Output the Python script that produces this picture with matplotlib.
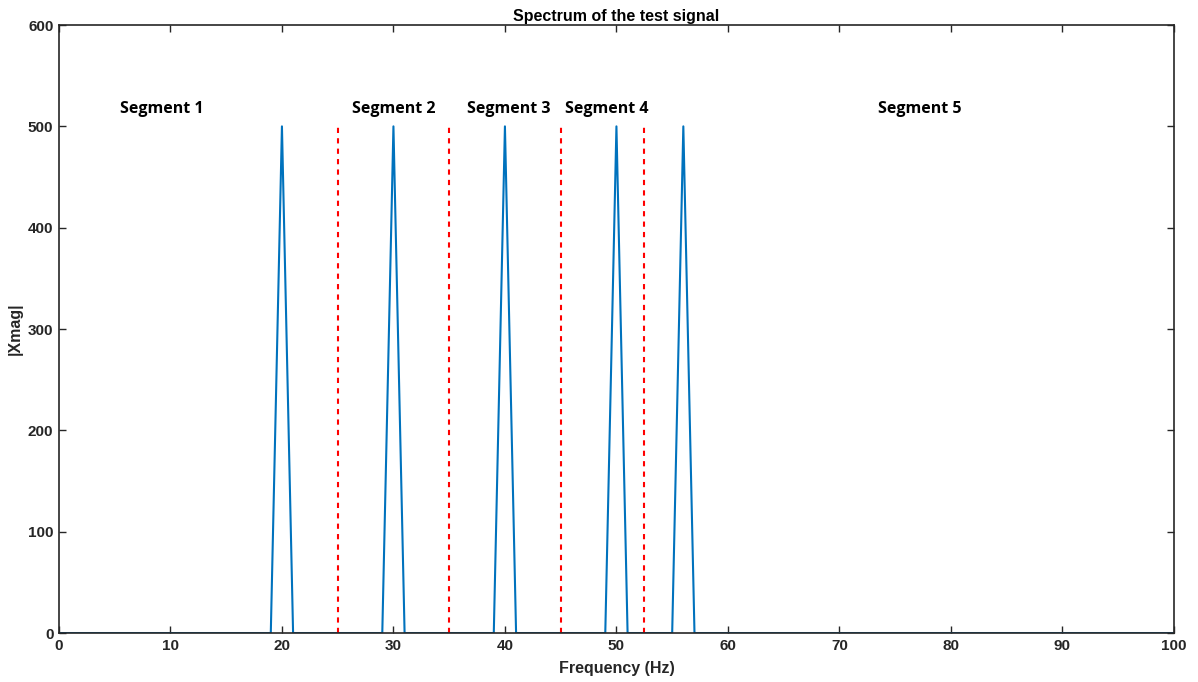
import numpy as np
import matplotlib.pyplot as plt

# spectrum: 0..100 Hz, 1 Hz bins
freq = np.arange(0, 101)
peak_freqs = [20, 30, 40, 50, 56]
peak_mags = [500, 500, 500, 500, 500]
boundaries = [25, 35, 45, 52.5]
seg_labels = ['Segment 1', 'Segment 2', 'Segment 3', 'Segment 4', 'Segment 5']
seg_x = [9.2, 30.0, 40.3, 49.1, 77.2]
seg_y = 517

xmag = np.zeros(len(freq))
for f, m in zip(peak_freqs, peak_mags):
    xmag[freq == f] = m

plt.rcParams['font.family'] = ['Liberation Sans', 'DejaVu Sans']
axc = '#262626'

fig = plt.figure(figsize=(11.98, 6.82), dpi=100)
ax = fig.add_axes([0.0492, 0.0718, 0.9307, 0.8915])

ax.plot(freq, xmag, color='#0072BD', lw=1.5)
for b in boundaries:
    ax.plot([b, b], [0, 500], color='#FF0000', lw=1.5, ls=(0, (2.5, 2.5)))

for s, x in zip(seg_labels, seg_x):
    ax.text(x, seg_y, s, ha='center', va='center', fontsize=11.5,
            fontweight='bold', family=['Open Sans', 'DejaVu Sans'])

ax.set_xlim(0, 100)
ax.set_ylim(0, 600)
ax.set_xticks(np.arange(0, 101, 10))
ax.set_yticks(np.arange(0, 601, 100))
ax.tick_params(direction='in', length=5, width=1, colors=axc, labelsize=11,
               top=True, right=True, pad=4)
for lab in ax.get_xticklabels() + ax.get_yticklabels():
    lab.set_fontweight('bold')
for sp in ax.spines.values():
    sp.set_color(axc)
    sp.set_linewidth(1.2)

ax.set_xlabel('Frequency (Hz)', fontsize=11.5, fontweight='bold', color=axc, labelpad=6)
ax.set_ylabel('|Xmag|', fontsize=11.5, fontweight='bold', color=axc, labelpad=4)
ax.set_title('Spectrum of the test signal', fontsize=11.5, fontweight='bold', color='black', pad=3)

fig.savefig('out.png', dpi=100)
